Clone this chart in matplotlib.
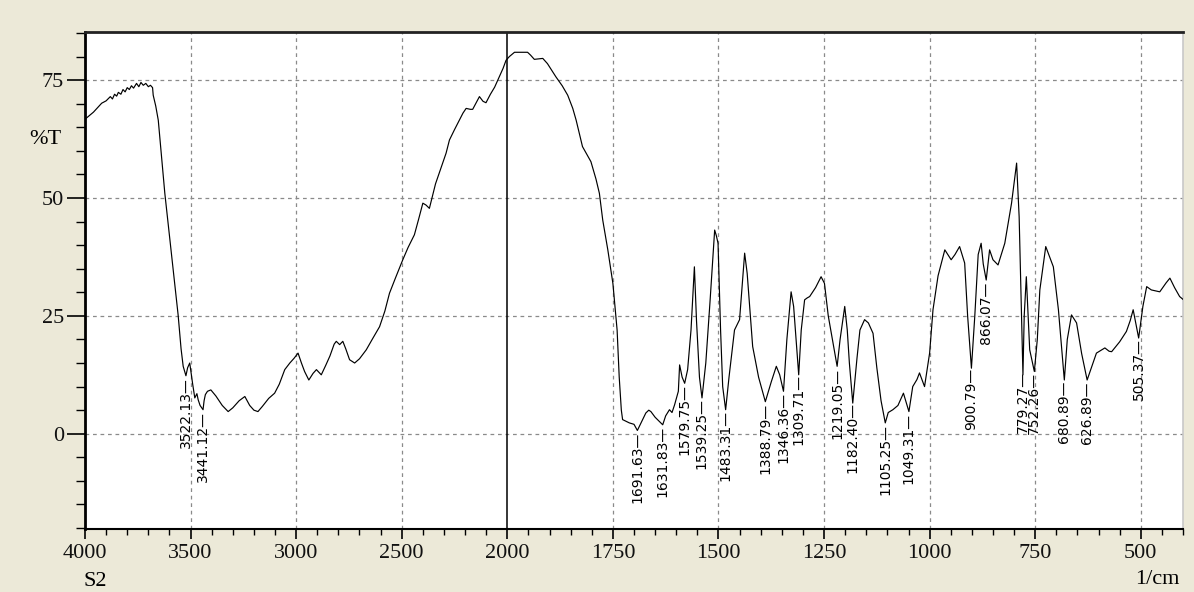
import numpy as np
import matplotlib
matplotlib.use("Agg")
import matplotlib.pyplot as plt

# ---- spectrum data (wavenumber 1/cm, %T) ----
wavenumber = [
    4000, 3960, 3921, 3900, 3880, 3870, 3860, 3850, 3842, 3830, 3820, 3810, 3800, 3790,
    3780, 3770, 3756, 3745, 3735, 3724, 3712, 3700, 3690, 3680, 3677, 3665, 3653, 3640,
    3622, 3590, 3559, 3545, 3535, 3522, 3514, 3504, 3490, 3480, 3470, 3464, 3455, 3441,
    3436, 3430, 3420, 3404, 3380, 3350, 3322, 3300, 3270, 3243, 3220, 3200, 3181, 3160,
    3130, 3102, 3080, 3054, 3030, 3010, 2991, 2975, 2960, 2940, 2920, 2904, 2881, 2860,
    2840, 2820, 2810, 2794, 2779, 2765, 2747, 2723, 2700, 2668, 2640, 2605, 2580, 2558,
    2530, 2495, 2470, 2440, 2420, 2400, 2385, 2369, 2340, 2306, 2290, 2274, 2250, 2227,
    2210, 2195, 2175, 2164, 2150, 2132, 2115, 2101, 2080, 2060, 2038, 2020, 2006, 1995,
    1983, 1952, 1945, 1936, 1925, 1916, 1905, 1885, 1870, 1857, 1845, 1837, 1822, 1810,
    1802, 1790, 1782, 1774, 1762, 1750, 1740, 1735, 1730, 1727, 1711, 1700, 1692, 1685,
    1672, 1665, 1660, 1650, 1632, 1625, 1616, 1610, 1604, 1595, 1592, 1586, 1580, 1573,
    1565, 1557, 1552, 1545, 1539, 1530, 1520, 1509, 1505, 1501, 1495, 1490, 1483, 1475,
    1462, 1450, 1440, 1438, 1432, 1419, 1405, 1389, 1375, 1363, 1355, 1346, 1338, 1328,
    1322, 1310, 1304, 1296, 1290, 1284, 1270, 1257, 1249, 1240, 1219, 1212, 1201, 1195,
    1190, 1182, 1172, 1165, 1154, 1145, 1134, 1125, 1115, 1105, 1098, 1087, 1075, 1062,
    1049, 1040, 1030, 1024, 1012, 1000, 992, 980, 964, 949, 940, 929, 917, 910,
    901, 893, 885, 878, 873, 866, 858, 850, 838, 822, 806, 794, 788, 779,
    776, 771, 763, 752, 745, 739, 725, 707, 695, 681, 674, 664, 652, 640,
    627, 615, 605, 585, 575, 569, 550, 534, 525, 518, 505, 495, 486, 475,
    455, 440, 431, 420, 408, 400,
]
transmittance = [
    66.7, 68.2, 70.1, 70.6, 71.5, 71.0, 72.0, 71.6, 72.4, 72.0, 73.0, 72.5, 73.4, 73.0,
    73.8, 73.3, 74.3, 73.6, 74.5, 73.9, 74.3, 73.6, 73.9, 73.4, 71.8, 69.5, 66.5, 60.0,
    51.0, 38.0, 25.2, 18.0, 14.3, 12.3, 14.0, 15.0, 10.5, 7.6, 8.5, 7.2, 6.0, 5.1,
    7.0, 8.3, 9.0, 9.3, 8.0, 6.0, 4.7, 5.5, 7.0, 7.9, 6.0, 5.0, 4.7, 5.8,
    7.5, 8.6, 10.5, 13.6, 15.0, 16.0, 17.1, 15.0, 13.2, 11.4, 12.8, 13.6, 12.5, 14.5,
    16.5, 19.0, 19.6, 18.9, 19.6, 18.0, 15.7, 15.0, 15.9, 17.8, 20.0, 22.7, 26.0, 29.8,
    33.0, 36.9, 39.5, 42.2, 45.5, 48.9, 48.5, 47.8, 53.0, 57.4, 59.5, 62.3, 64.5, 66.5,
    68.0, 69.0, 68.8, 68.8, 70.0, 71.5, 70.5, 70.2, 72.0, 73.5, 75.7, 77.5, 79.2, 80.0,
    80.9, 80.9, 80.3, 79.4, 79.5, 79.6, 78.5, 75.7, 73.8, 71.8, 69.0, 66.5, 60.9, 59.0,
    57.7, 54.0, 51.0, 45.3, 39.0, 31.9, 22.0, 12.0, 5.0, 3.0, 2.3, 2.0, 0.7, 2.0,
    4.4, 5.0, 4.7, 3.5, 1.9, 3.8, 5.1, 4.5, 6.1, 9.0, 14.6, 12.0, 10.7, 13.6,
    22.0, 35.4, 24.0, 12.0, 7.6, 15.0, 28.0, 43.2, 42.0, 40.4, 22.0, 10.0, 5.1, 12.0,
    22.0, 24.2, 36.0, 38.3, 34.0, 18.5, 12.0, 6.8, 11.0, 14.3, 12.5, 9.0, 20.0, 30.1,
    27.0, 12.5, 22.0, 28.4, 28.8, 29.1, 31.0, 33.3, 31.9, 25.0, 14.3, 20.0, 27.0, 22.0,
    15.0, 6.5, 16.0, 22.0, 24.2, 23.5, 21.3, 14.0, 7.0, 2.3, 4.5, 5.1, 6.0, 8.6,
    4.7, 10.0, 11.5, 12.9, 10.0, 17.1, 26.3, 33.5, 39.0, 36.9, 38.0, 39.7, 36.2, 25.0,
    13.9, 25.0, 38.0, 40.4, 36.0, 32.6, 39.0, 36.9, 35.8, 40.4, 48.9, 57.4, 46.0, 12.5,
    25.0, 33.3, 17.8, 13.2, 20.0, 30.5, 39.7, 35.4, 26.3, 11.4, 20.0, 25.2, 23.5, 17.0,
    11.4, 14.5, 17.1, 18.2, 17.5, 17.4, 19.5, 21.7, 24.0, 26.3, 20.3, 27.0, 31.2, 30.5,
    30.1, 32.0, 33.0, 31.0, 29.1, 28.5,
]

peak_labels = [3522.13, 3441.12, 1691.63, 1631.83, 1579.75, 1539.25, 1483.31, 1388.79,
               1346.36, 1309.71, 1219.05, 1182.40, 1105.25, 1049.31, 900.79, 866.07,
               779.27, 752.26, 680.89, 626.89, 505.37]

x_major = [4000, 3500, 3000, 2500, 2000, 1750, 1500, 1250, 1000, 750, 500]
y_major = [0, 25, 50, 75]

BG = '#ECE9D8'
SERIF = ['Liberation Serif', 'DejaVu Serif']

# split scale: 4000-2000 compressed by a factor of two (monotonic increasing)
def fwd(w):
    w = np.asarray(w, dtype=float)
    return np.where(w <= 2000, w, 2000.0 + (w - 2000.0) / 2.0)

def inv(p):
    p = np.asarray(p, dtype=float)
    return np.where(p <= 2000, p, 2000.0 + (p - 2000.0) * 2.0)

W, H = 1194, 592
fig = plt.figure(figsize=(W / 100, H / 100), dpi=100, facecolor=BG)
L, R, T, B = 85, 1183, 32, 529
ax = fig.add_axes([L / W, 1 - B / H, (R - L) / W, (B - T) / H])
ax.set_facecolor('white')
ax.set_xscale('function', functions=(fwd, inv))
ax.set_xlim(4000, 400)
ax.set_ylim(-20.2, 85.2)

wn = np.array(wavenumber, dtype=float)
tr = np.array(transmittance, dtype=float)

# grid
for xv in x_major:
    if xv in (4000, 2000):
        continue
    ax.axvline(xv, color='#8a8a8a', lw=0.9, ls=(0, (3, 3)), zorder=1)
for yv in y_major:
    ax.axhline(yv, color='#8a8a8a', lw=0.9, ls=(0, (3, 3)), zorder=1)
ax.axvline(2000, color='black', lw=1.1, zorder=2)

ax.plot(wn, tr, color='black', lw=0.85, zorder=3)

# peak annotations
order = np.argsort(wn)
for pk in peak_labels:
    yv = np.interp(pk, wn[order], tr[order])
    ax.annotate(f"{pk:.2f}\u2014", xy=(pk, yv), xytext=(0, -1), textcoords='offset points',
                rotation=90, ha='center', va='top', fontsize=10,
                family=['DejaVu Sans'], color='black', zorder=4)

# ticks
minor_x = [v for v in list(range(3900, 2000, -100)) + list(range(1950, 399, -50))
           if v not in x_major]
ax.set_xticks(x_major)
ax.set_xticklabels([str(v) for v in x_major])
ax.set_xticks(minor_x, minor=True)
ax.set_yticks(y_major)
ax.set_yticklabels([str(v) for v in y_major])
ax.set_yticks(np.arange(-20, 86, 5), minor=True)

ax.tick_params(axis='x', which='major', direction='out', length=7, width=1.2, pad=4,
               labelsize=16)
ax.tick_params(axis='x', which='minor', direction='out', length=4, width=1.0)
ax.tick_params(axis='y', which='major', direction='out', length=13, width=1.2, pad=2,
               labelsize=16)
ax.tick_params(axis='y', which='minor', direction='out', length=6.5, width=1.0)
for lab in ax.get_xticklabels() + ax.get_yticklabels():
    lab.set_family(SERIF)
    lab.set_color('#111111')

for side, lw, col in (('left', 2.0, 'black'), ('top', 2.0, '#222222'),
                      ('bottom', 1.5, 'black'), ('right', 1.2, '#c8c8c8')):
    ax.spines[side].set_linewidth(lw)
    ax.spines[side].set_color(col)

fig.text(45 / W, 1 - 139 / H, '%T', ha='center', va='center', fontsize=16, family=SERIF)
fig.text(95 / W, 1 - 582 / H, 'S2', ha='center', va='center', fontsize=16, family=SERIF)
fig.text(1157 / W, 1 - 580 / H, '1/cm', ha='center', va='center', fontsize=16, family=SERIF)

fig.savefig('out.png', dpi=100, facecolor=BG)
